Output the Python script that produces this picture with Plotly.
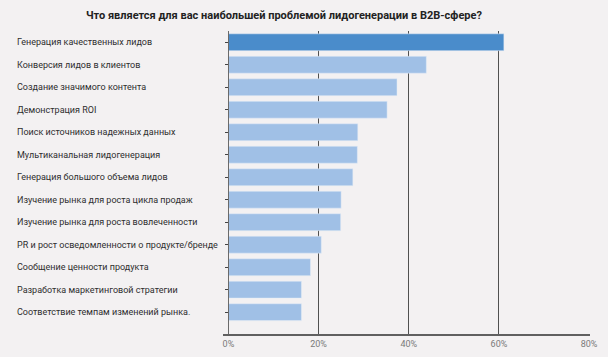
import plotly.graph_objects as go

title = "Что является для вас наибольшей проблемой лидогенерации в B2B-сфере?"
categories = [
    "Генерация качественных лидов",
    "Конверсия лидов в клиентов",
    "Создание значимого контента",
    "Демонстрация ROI",
    "Поиск источников надежных данных",
    "Мультиканальная лидогенерация",
    "Генерация большого объема лидов",
    "Изучение рынка для роста цикла продаж",
    "Изучение рынка для роста вовлеченности",
    "PR и рост осведомленности о продукте/бренде",
    "Сообщение ценности продукта",
    "Разработка маркетинговой стратегии",
    "Соответствие темпам изменений рынка.",
]
values = [61.1, 43.9, 37.4, 35.2, 28.7, 28.6, 27.6, 25.0, 24.9, 20.6, 18.2, 16.2, 16.2]
tick_vals = [0, 20, 40, 60, 80]
tick_text = ["0%", "20%", "40%", "60%", "80%"]

colors = ["#4a8ccb"] + ["#a0c0e6"] * (len(values) - 1)

fig = go.Figure()
fig.add_trace(go.Bar(
    x=values,
    y=list(range(len(categories))),
    orientation="h",
    marker=dict(color=colors, line=dict(color="#e4ecf6", width=0.5)),
    hoverinfo="x",
))

for i, c in enumerate(categories):
    fig.add_annotation(
        x=-0.566, xref="paper", xanchor="left",
        y=i, yref="y", yanchor="middle",
        text=c, showarrow=False,
        font=dict(family="Roboto", size=9, color="#2e2e2e"),
    )

fig.update_layout(
    width=608, height=357,
    margin=dict(l=223, r=18, t=31, b=23, autoexpand=False),
    paper_bgcolor="#f3f1f2",
    plot_bgcolor="#f3f1f2",
    bargap=0.25,
    showlegend=False,
    title=dict(
        text="<b>" + title + "</b>",
        x=0.467, xanchor="center", y=0.958, yanchor="middle",
        font=dict(family="Roboto", size=11, color="#222222"),
    ),
    xaxis=dict(
        range=[-1.2, 80.2],
        tickvals=tick_vals, ticktext=tick_text,
        showgrid=True, gridcolor="#505050", gridwidth=1,
        zeroline=False, automargin=False,
        showline=True, linecolor="#606060", linewidth=1.5,
        tickfont=dict(family="Roboto", size=9, color="#7a7a7a"),
        ticks="", fixedrange=True,
    ),
    yaxis=dict(
        range=[12.97, -0.5],
        showticklabels=False, automargin=False,
        showgrid=False, zeroline=False,
        anchor="free", position=0.0145,
        showline=True, linecolor="#6a6a6a", linewidth=1,
        ticks="outside", ticklen=3, tickcolor="#444444",
        tickvals=list(range(len(categories))),
        fixedrange=True,
    ),
)

fig.write_html(
    "out.html",
    config={"displayModeBar": False},
    post_script="document.body.style.margin='0';document.body.style.background='#f3f1f2';",
)
